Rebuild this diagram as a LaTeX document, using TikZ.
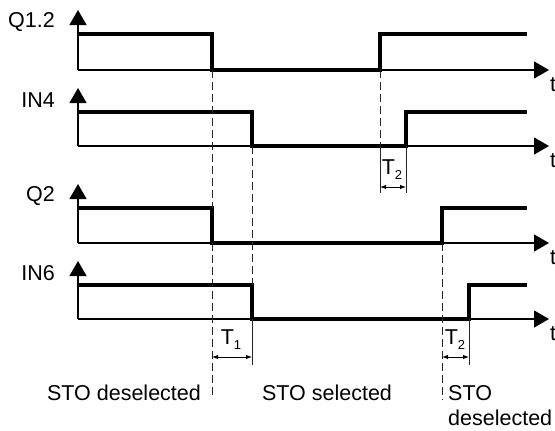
\documentclass[tikz,border=0pt]{standalone}
\usepackage{fontspec}
\setmainfont{Liberation Sans}
\usetikzlibrary{arrows.meta}
\tikzset{
  axis/.style={line width=1.3pt, -{Triangle[length=15pt,width=17pt]}},
  signal/.style={line width=3.3pt, line join=miter},
  guide/.style={line width=1pt, black!85, dash pattern=on 8pt off 4pt},
  tick/.style={line width=1pt, black!85},
  delay/.style={line width=1pt, {Latex[length=6pt,width=4.5pt]}-{Latex[length=6pt,width=4.5pt]}},
  lbl/.style={font=\fontsize{21.5}{25}\selectfont, inner sep=0pt}
}
\newcommand{\tsub}[1]{T\raisebox{-0.45ex}{\fontsize{13}{13}\selectfont #1}}
\begin{document}
\begin{tikzpicture}[x=1pt,y=-1pt]
    \useasboundingbox (0,0) rectangle (555,431);
    %signals with axes
    \foreach \n/\name/\yh/\yl/\xf/\xr in {a/Q1.2/34/70/212/380, b/IN4/112/146/252/406, c/Q2/208/243/212/442, d/IN6/285/319/252/469} {
      \draw[axis](78,\yl)--(78,\yh-24);
      \draw[axis](78,\yl)--(549,\yl);
      \node[lbl, anchor=east] (name\n) at (55,\yh-12) {\name};
      \node[lbl, anchor=west] (t\n) at (550,\yl+15) {t};
      \draw[signal](78,\yh)--(\xf,\yh)--(\xf,\yl)--(\xr,\yl)--(\xr,\yh)--(527,\yh);
    }
    %dashed guides
    \draw[guide](212,70)--(212,208);
    \draw[guide](212,243)--(212,398);
    \draw[guide](252,146)--(252,285);
    \draw[guide](380,70)--(380,146);
    \draw[guide](442,243)--(442,400);
    %delay T2 (IN4)
    \draw[tick](380,146)--(380,193);
    \draw[tick](406,146)--(406,193);
    \draw[delay](380,187)--(406,187);
    \node[lbl] (dtwoa) at (392,170) {\tsub{2}};
    %delay T1
    \draw[tick](252,319)--(252,365);
    \draw[delay](212,357)--(252,357);
    \node[lbl] (done) at (231,340) {\tsub{1}};
    %delay T2 (IN6)
    \draw[tick](469,319)--(469,365);
    \draw[delay](442,357)--(469,357);
    \node[lbl] (dtwob) at (455,340) {\tsub{2}};
    %states
    \node[lbl] (desel) at (124,393) {STO deselected};
    \node[lbl] (sel) at (327,393) {STO selected};
    \node[lbl, anchor=north west, align=left] (deselb) at (448,385) {STO\\deselected};
\end{tikzpicture}
\end{document}
